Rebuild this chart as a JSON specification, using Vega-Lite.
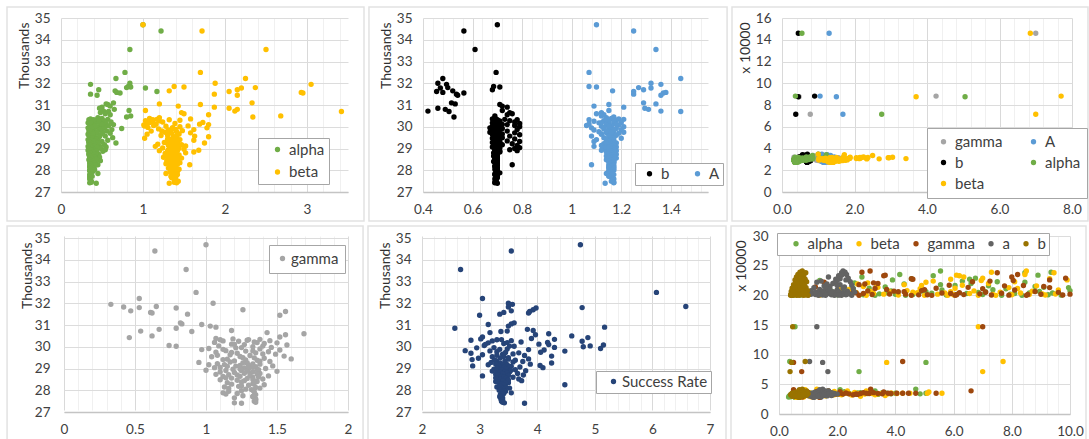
{"$schema":"https://vega.github.io/schema/vega-lite/v6.json","padding":{"left":6,"top":6,"right":0,"bottom":0},"background":"white",
"config":{"font":"Lato","view":{"stroke":null},"axis":{"ticks":false,"grid":true,"labelFont":"Lato","labelFontSize":13.5,"labelColor":"#404040","labelBound":false,"labelFlush":false,"titleFont":"Lato","titleFontWeight":"normal","titleFontSize":14,"titleColor":"#303030","gridColor":"#dcdcdc","gridWidth":1},"axisX":{"domain":true,"domainColor":"#c4c4c4","domainWidth":1.5,"labelPadding":10},"axisY":{"domain":false,"labelPadding":11},"legend":{"fillColor":"white","strokeColor":"#a6a6a6","labelFont":"Lato","labelFontSize":15,"labelColor":"#404040","symbolSize":28,"symbolType":"circle","symbolOpacity":1,"titleFontSize":0}},
"datasets":{"core":[
{"y":146,"alpha":0.55,"beta":6.85,"gamma":7.0,"A":1.3,"b":0.45},{"y":88.2,"alpha":0.37,"beta":7.7,"gamma":4.25,"A":1.05,"b":0.9},{"y":87.6,"alpha":5.05,"beta":3.7,"gamma":0.47,"A":1.5,"b":0.45},{"y":71.5,"alpha":2.75,"beta":7.0,"gamma":0.78,"A":1.68,"b":0.38},
{"y":34.69,"alpha":1.0,"beta":1.0,"gamma":1.0,"A":1.1,"b":0.7,"sr":4.75},{"y":34.4,"alpha":1.22,"beta":1.72,"gamma":0.64,"A":1.25,"b":0.565,"sr":3.55},{"y":33.55,"alpha":0.84,"beta":2.5,"gamma":0.86,"A":1.34,"b":0.61,"sr":2.67},{"y":32.5,"alpha":0.78,"beta":1.7,"gamma":0.93,"A":1.07,"b":0.695,"sr":6.07},{"y":32.22,"alpha":0.67,"beta":2.25,"gamma":0.53,"A":1.44,"b":0.48,"sr":3.05},{"y":32.0,"alpha":0.84,"beta":1.88,"gamma":1.05,"A":1.32,"b":0.46,"sr":3.5},{"y":31.95,"alpha":0.36,"beta":3.05,"gamma":0.33,"A":1.36,"b":0.495,"sr":3.57},{"y":31.85,"alpha":0.82,"beta":1.38,"gamma":0.65,"A":1.07,"b":0.685,"sr":6.58},{"y":31.83,"alpha":0.85,"beta":1.5,"gamma":0.42,"A":1.1,"b":0.71,"sr":3.5},{"y":31.8,"alpha":0.8,"beta":2.37,"gamma":0.53,"A":1.27,"b":0.5,"sr":4.78},{"y":31.78,"alpha":1.03,"beta":2.2,"gamma":0.79,"A":1.32,"b":0.47,"sr":3.98},{"y":31.7,"alpha":0.46,"beta":2.15,"gamma":1.26,"A":1.29,"b":0.68,"sr":3.93},{"y":31.65,"alpha":0.66,"beta":1.32,"gamma":0.47,"A":1.165,"b":0.52,"sr":3.55},{"y":31.62,"alpha":1.17,"beta":2.05,"gamma":1.56,"A":1.25,"b":0.455,"sr":3.87},{"y":31.58,"alpha":0.68,"beta":2.93,"gamma":0.61,"A":1.38,"b":0.48,"sr":3.42},{"y":31.55,"alpha":0.72,"beta":2.95,"gamma":0.62,"A":1.37,"b":0.565,"sr":3.85},{"y":31.5,"alpha":0.36,"beta":1.87,"gamma":0.87,"A":1.25,"b":0.535,"sr":3.35},{"y":31.45,"alpha":0.44,"beta":2.15,"gamma":1.52,"A":1.36,"b":0.54,"sr":3.0},{"y":31.1,"alpha":0.64,"beta":2.33,"gamma":0.82,"A":1.29,"b":0.515,"sr":3.6},{"y":31.05,"alpha":0.55,"beta":1.2,"gamma":0.83,"A":1.34,"b":0.53,"sr":3.55},{"y":31.02,"alpha":0.57,"beta":1.7,"gamma":0.97,"A":1.15,"b":0.71,"sr":3.15},{"y":30.95,"alpha":0.6,"beta":1.43,"gamma":1.03,"A":1.09,"b":0.72,"sr":3.5},{"y":30.9,"alpha":0.5,"beta":1.87,"gamma":1.07,"A":1.21,"b":0.74,"sr":5.17},{"y":30.85,"alpha":0.47,"beta":2.05,"gamma":0.79,"A":1.295,"b":0.46,"sr":2.57},{"y":30.8,"alpha":0.65,"beta":2.15,"gamma":0.67,"A":1.31,"b":0.49,"sr":3.83},{"y":30.75,"alpha":0.83,"beta":1.03,"gamma":1.18,"A":1.15,"b":0.72,"sr":3.93},{"y":30.72,"alpha":0.52,"beta":2.12,"gamma":0.54,"A":1.36,"b":0.42,"sr":3.48},{"y":30.7,"alpha":0.58,"beta":3.42,"gamma":0.9,"A":1.44,"b":0.505,"sr":3.37},{"y":30.65,"alpha":0.48,"beta":1.47,"gamma":1.43,"A":1.12,"b":0.75,"sr":3.18},{"y":30.6,"alpha":0.54,"beta":1.5,"gamma":1.69,"A":1.1,"b":0.76,"sr":4.2},{"y":30.55,"alpha":0.6,"beta":1.8,"gamma":1.56,"A":1.13,"b":0.74,"sr":3.97},{"y":30.5,"alpha":0.85,"beta":2.68,"gamma":0.62,"A":1.12,"b":0.69,"sr":4.6},{"y":30.45,"alpha":0.8,"beta":2.34,"gamma":1.52,"A":1.17,"b":0.525,"sr":3.05},{"y":30.42,"alpha":0.45,"beta":1.2,"gamma":0.46,"A":1.14,"b":0.69,"sr":4.88},
{"y":30.38,"alpha":0.5,"beta":1.08,"gamma":1.07,"A":1.16,"b":0.69,"sr":3.9},{"y":30.36,"alpha":0.36,"beta":1.58,"gamma":1.19,"A":1.19,"b":0.68,"sr":3.02},{"y":30.34,"alpha":0.57,"beta":1.17,"gamma":1.38,"A":1.21,"b":0.73,"sr":4.3},{"y":30.32,"alpha":0.34,"beta":1.32,"gamma":1.1,"A":1.07,"b":0.78,"sr":3.3},{"y":30.3,"alpha":0.43,"beta":1.45,"gamma":1.29,"A":1.18,"b":0.7,"sr":2.85},{"y":30.28,"alpha":0.52,"beta":1.03,"gamma":1.45,"A":1.13,"b":0.75,"sr":3.55},{"y":30.25,"alpha":0.39,"beta":1.12,"gamma":1.23,"A":1.09,"b":0.69,"sr":4.78},{"y":30.22,"alpha":0.61,"beta":1.24,"gamma":1.34,"A":1.15,"b":0.77,"sr":3.72},{"y":30.2,"alpha":0.47,"beta":1.73,"gamma":1.06,"A":1.2,"b":0.71,"sr":4.18},{"y":30.18,"alpha":0.33,"beta":1.05,"gamma":1.5,"A":1.11,"b":0.68,"sr":3.15},{"y":30.15,"alpha":0.55,"beta":1.39,"gamma":1.41,"A":1.17,"b":0.79,"sr":3.42},{"y":30.12,"alpha":0.41,"beta":1.69,"gamma":1.18,"A":1.07,"b":0.7,"sr":4.03},{"y":30.1,"alpha":0.64,"beta":1.8,"gamma":1.27,"A":1.14,"b":0.74,"sr":4.2},{"y":30.08,"alpha":0.37,"beta":1.01,"gamma":1.57,"A":1.19,"b":0.69,"sr":5.15},{"y":30.06,"alpha":0.49,"beta":1.13,"gamma":0.74,"A":1.06,"b":0.77,"sr":3.08},{"y":30.04,"alpha":0.58,"beta":1.55,"gamma":1.09,"A":1.16,"b":0.71,"sr":4.92},{"y":30.02,"alpha":0.35,"beta":1.28,"gamma":0.79,"A":1.12,"b":0.68,"sr":3.6},{"y":30.0,"alpha":0.44,"beta":1.45,"gamma":1.33,"A":1.21,"b":0.79,"sr":4.8},{"y":29.97,"alpha":0.53,"beta":1.06,"gamma":1.46,"A":1.15,"b":0.7,"sr":4.3},{"y":29.95,"alpha":0.33,"beta":1.78,"gamma":1.21,"A":1.08,"b":0.67,"sr":2.95},{"y":29.92,"alpha":0.74,"beta":1.36,"gamma":1.02,"A":1.18,"b":0.72,"sr":5.1},{"y":29.9,"alpha":0.4,"beta":1.19,"gamma":1.38,"A":1.13,"b":0.69,"sr":3.48},{"y":29.87,"alpha":0.62,"beta":1.62,"gamma":0.97,"A":1.2,"b":0.78,"sr":3.85},{"y":29.85,"alpha":0.46,"beta":1.31,"gamma":1.52,"A":1.09,"b":0.68,"sr":4.12},{"y":29.82,"alpha":0.34,"beta":1.48,"gamma":1.14,"A":1.16,"b":0.7,"sr":2.75},{"y":29.8,"alpha":0.56,"beta":1.1,"gamma":1.28,"A":1.17,"b":0.74,"sr":4.48},{"y":29.77,"alpha":0.38,"beta":1.41,"gamma":1.44,"A":1.11,"b":0.69,"sr":3.3},{"y":29.75,"alpha":0.51,"beta":1.27,"gamma":1.07,"A":1.21,"b":0.67,"sr":4.06},{"y":29.72,"alpha":0.43,"beta":1.58,"gamma":1.35,"A":1.14,"b":0.77,"sr":3.68},{"y":29.7,"alpha":0.6,"beta":1.35,"gamma":1.22,"A":1.19,"b":0.71,"sr":2.85},{"y":29.66,"alpha":0.33,"beta":1.05,"gamma":1.49,"A":1.12,"b":0.68,"sr":3.4},{"y":29.63,"alpha":0.48,"beta":1.42,"gamma":1.17,"A":1.15,"b":0.79,"sr":3.05},{"y":29.6,"alpha":0.36,"beta":1.22,"gamma":1.31,"A":1.17,"b":0.7,"sr":3.78},{"y":29.57,"alpha":0.54,"beta":1.63,"gamma":1.55,"A":1.08,"b":0.75,"sr":4.25},{"y":29.54,"alpha":0.41,"beta":1.8,"gamma":1.04,"A":1.16,"b":0.69,"sr":3.22},{"y":29.5,"alpha":0.63,"beta":1.38,"gamma":1.26,"A":1.13,"b":0.72,"sr":3.5},{"y":29.47,"alpha":0.35,"beta":1.02,"gamma":1.41,"A":1.2,"b":0.68,"sr":2.98},{"y":29.44,"alpha":0.45,"beta":1.3,"gamma":1.6,"A":1.15,"b":0.77,"sr":3.85},{"y":29.41,"alpha":0.33,"beta":1.45,"gamma":1.12,"A":1.1,"b":0.7,"sr":2.87},{"y":29.38,"alpha":0.57,"beta":1.62,"gamma":1.36,"A":1.17,"b":0.69,"sr":3.62},{"y":29.35,"alpha":0.39,"beta":1.34,"gamma":1.2,"A":1.14,"b":0.74,"sr":3.3},{"y":29.32,"alpha":0.5,"beta":1.41,"gamma":1.45,"A":1.09,"b":0.79,"sr":3.75},{"y":29.28,"alpha":0.34,"beta":1.26,"gamma":0.95,"A":1.16,"b":0.68,"sr":3.2},{"y":29.25,"alpha":0.67,"beta":1.75,"gamma":1.29,"A":1.18,"b":0.71,"sr":4.25},{"y":29.22,"alpha":0.42,"beta":1.38,"gamma":1.08,"A":1.13,"b":0.76,"sr":3.45},{"y":29.2,"alpha":0.36,"beta":1.18,"gamma":1.38,"A":1.15,"b":0.69,"sr":3.88},{"y":29.17,"alpha":0.53,"beta":1.47,"gamma":1.02,"A":1.17,"b":0.72,"sr":3.15},{"y":29.14,"alpha":0.38,"beta":1.32,"gamma":1.24,"A":1.12,"b":0.78,"sr":4.05},{"y":29.12,"alpha":0.47,"beta":1.52,"gamma":1.47,"A":1.16,"b":0.69,"sr":2.88},{"y":29.1,"alpha":0.33,"beta":1.15,"gamma":1.15,"A":1.09,"b":0.7,"sr":3.55},{"y":29.07,"alpha":0.55,"beta":1.36,"gamma":1.33,"A":1.18,"b":0.68,"sr":3.7},{"y":29.04,"alpha":0.4,"beta":1.43,"gamma":1.06,"A":1.14,"b":0.79,"sr":4.1},{"y":29.02,"alpha":0.35,"beta":1.24,"gamma":1.27,"A":1.16,"b":0.71,"sr":3.35},{"y":29.0,"alpha":0.49,"beta":1.39,"gamma":1.42,"A":1.13,"b":0.77,"sr":3.48},{"y":28.97,"alpha":0.37,"beta":1.5,"gamma":1.19,"A":1.17,"b":0.69,"sr":3.25},{"y":28.94,"alpha":0.54,"beta":1.31,"gamma":1.36,"A":1.15,"b":0.75,"sr":3.62},{"y":28.92,"alpha":0.33,"beta":1.68,"gamma":1.0,"A":1.12,"b":0.7,"sr":3.42},{"y":28.9,"alpha":0.44,"beta":1.2,"gamma":1.25,"A":1.18,"b":0.78,"sr":3.8},{"y":28.87,"alpha":0.51,"beta":1.4,"gamma":1.5,"A":1.16,"b":0.69,"sr":3.3},{"y":28.84,"alpha":0.36,"beta":1.62,"gamma":1.1,"A":1.14,"b":0.71,"sr":3.52},{"y":28.8,"alpha":0.41,"beta":1.52,"gamma":1.31,"A":1.17,"b":0.685,"sr":3.38},{"y":28.77,"alpha":0.34,"beta":1.27,"gamma":1.38,"A":1.15,"b":0.7,"sr":3.66},{"y":28.73,"alpha":0.46,"beta":1.35,"gamma":1.07,"A":1.18,"b":0.69,"sr":3.28},{"y":28.7,"alpha":0.38,"beta":1.44,"gamma":1.22,"A":1.16,"b":0.7,"sr":3.76},{"y":28.66,"alpha":0.43,"beta":1.3,"gamma":1.44,"A":1.14,"b":0.685,"sr":3.05},{"y":28.63,"alpha":0.35,"beta":1.38,"gamma":1.12,"A":1.17,"b":0.7,"sr":3.44},{"y":28.6,"alpha":0.47,"beta":1.25,"gamma":1.33,"A":1.15,"b":0.69,"sr":3.58},{"y":28.56,"alpha":0.36,"beta":1.47,"gamma":1.18,"A":1.18,"b":0.695,"sr":3.32},{"y":28.52,"alpha":0.41,"beta":1.34,"gamma":1.4,"A":1.16,"b":0.7,"sr":3.68},{"y":28.48,"alpha":0.34,"beta":1.42,"gamma":1.1,"A":1.14,"b":0.69,"sr":3.4},{"y":28.44,"alpha":0.48,"beta":1.29,"gamma":1.27,"A":1.17,"b":0.7,"sr":3.73},{"y":28.4,"alpha":0.37,"beta":1.37,"gamma":1.36,"A":1.15,"b":0.685,"sr":3.28},{"y":28.35,"alpha":0.42,"beta":1.45,"gamma":1.15,"A":1.17,"b":0.695,"sr":3.5},{"y":28.3,"alpha":0.35,"beta":1.28,"gamma":1.33,"A":1.16,"b":0.7,"sr":3.35},{"y":28.25,"alpha":0.45,"beta":1.57,"gamma":1.41,"A":1.08,"b":0.76,"sr":4.48},{"y":28.2,"alpha":0.38,"beta":1.4,"gamma":1.25,"A":1.15,"b":0.69,"sr":3.44},{"y":28.15,"alpha":0.35,"beta":1.33,"gamma":1.13,"A":1.17,"b":0.695,"sr":3.3},{"y":28.1,"alpha":0.4,"beta":1.31,"gamma":1.38,"A":1.15,"b":0.7,"sr":3.52},{"y":28.05,"alpha":0.36,"beta":1.44,"gamma":1.28,"A":1.16,"b":0.69,"sr":3.38},{"y":28.0,"alpha":0.35,"beta":1.37,"gamma":1.33,"A":1.17,"b":0.7,"sr":3.34},{"y":27.95,"alpha":0.39,"beta":1.42,"gamma":1.16,"A":1.15,"b":0.695,"sr":3.45},{"y":27.88,"alpha":0.36,"beta":1.37,"gamma":1.12,"A":1.16,"b":0.71,"sr":3.55},{"y":27.85,"alpha":0.45,"beta":1.28,"gamma":1.22,"A":1.14,"b":0.7,"sr":3.42},{"y":27.8,"alpha":0.35,"beta":1.42,"gamma":1.35,"A":1.17,"b":0.69,"sr":3.36},{"y":27.75,"alpha":0.37,"beta":1.36,"gamma":1.26,"A":1.15,"b":0.7,"sr":3.38},{"y":27.7,"alpha":0.35,"beta":1.4,"gamma":1.33,"A":1.16,"b":0.695,"sr":3.35},{"y":27.65,"alpha":0.36,"beta":1.35,"gamma":1.2,"A":1.165,"b":0.7,"sr":3.4},{"y":27.6,"alpha":0.35,"beta":1.38,"gamma":1.35,"A":1.17,"b":0.69,"sr":3.37},{"y":27.5,"alpha":0.37,"beta":1.43,"gamma":1.34,"A":1.16,"b":0.695,"sr":3.38},{"y":27.42,"alpha":0.35,"beta":1.41,"gamma":1.2,"A":1.17,"b":0.69,"sr":3.43},{"y":27.4,"alpha":0.43,"beta":1.32,"gamma":1.25,"A":1.135,"b":0.7,"sr":3.78},
{"y":30.33,"alpha":0.4,"beta":1.12,"gamma":1.3,"A":1.14,"b":0.7,"sr":3.38},{"y":30.27,"alpha":0.46,"beta":1.2,"gamma":1.12,"A":1.17,"b":0.71,"sr":3.22},{"y":30.19,"alpha":0.36,"beta":1.08,"gamma":1.36,"A":1.12,"b":0.69,"sr":3.48},{"y":30.11,"alpha":0.5,"beta":1.16,"gamma":1.2,"A":1.18,"b":0.72,"sr":3.1},{"y":30.03,"alpha":0.42,"beta":1.02,"gamma":1.4,"A":1.15,"b":0.69,"sr":3.52},{"y":29.96,"alpha":0.37,"beta":1.36,"gamma":1.25,"A":1.13,"b":0.7,"sr":3.25},{"y":29.88,"alpha":0.48,"beta":1.4,"gamma":1.12,"A":1.17,"b":0.71,"sr":3.35},{"y":29.81,"alpha":0.35,"beta":1.23,"gamma":1.33,"A":1.14,"b":0.69,"sr":3.18},{"y":29.74,"alpha":0.44,"beta":1.32,"gamma":1.18,"A":1.16,"b":0.7,"sr":3.45},{"y":29.67,"alpha":0.39,"beta":1.44,"gamma":1.4,"A":1.12,"b":0.72,"sr":3.58},{"y":29.61,"alpha":0.34,"beta":1.3,"gamma":1.08,"A":1.18,"b":0.69,"sr":3.3},{"y":29.55,"alpha":0.47,"beta":1.37,"gamma":1.24,"A":1.15,"b":0.7,"sr":3.42},{"y":29.49,"alpha":0.38,"beta":1.41,"gamma":1.34,"A":1.17,"b":0.71,"sr":3.36},{"y":29.43,"alpha":0.43,"beta":1.33,"gamma":1.15,"A":1.14,"b":0.69,"sr":3.5},{"y":29.39,"alpha":0.36,"beta":1.39,"gamma":1.28,"A":1.16,"b":0.7,"sr":3.26},{"y":29.34,"alpha":0.41,"beta":1.43,"gamma":1.38,"A":1.15,"b":0.71,"sr":3.44},{"y":29.3,"alpha":0.34,"beta":1.35,"gamma":1.17,"A":1.17,"b":0.69,"sr":3.58},{"y":29.26,"alpha":0.45,"beta":1.29,"gamma":1.26,"A":1.14,"b":0.7,"sr":3.36},{"y":29.21,"alpha":0.37,"beta":1.42,"gamma":1.33,"A":1.16,"b":0.695,"sr":3.28},{"y":29.18,"alpha":0.42,"beta":1.36,"gamma":1.13,"A":1.15,"b":0.7,"sr":3.48},{"y":29.15,"alpha":0.35,"beta":1.31,"gamma":1.3,"A":1.17,"b":0.71,"sr":3.4},{"y":29.11,"alpha":0.4,"beta":1.4,"gamma":1.21,"A":1.16,"b":0.69,"sr":3.33},{"y":29.08,"alpha":0.36,"beta":1.34,"gamma":1.35,"A":1.14,"b":0.7,"sr":3.52},{"y":29.05,"alpha":0.44,"beta":1.38,"gamma":1.1,"A":1.15,"b":0.695,"sr":3.42},{"y":29.01,"alpha":0.38,"beta":1.44,"gamma":1.3,"A":1.17,"b":0.7,"sr":3.3},{"y":28.98,"alpha":0.34,"beta":1.33,"gamma":1.24,"A":1.16,"b":0.69,"sr":3.46},{"y":28.95,"alpha":0.41,"beta":1.36,"gamma":1.37,"A":1.15,"b":0.7,"sr":3.38},{"y":28.91,"alpha":0.37,"beta":1.42,"gamma":1.14,"A":1.17,"b":0.695,"sr":3.54},{"y":28.88,"alpha":0.43,"beta":1.3,"gamma":1.29,"A":1.16,"b":0.71,"sr":3.22},{"y":28.85,"alpha":0.35,"beta":1.39,"gamma":1.33,"A":1.15,"b":0.69,"sr":3.44},{"y":28.82,"alpha":0.39,"beta":1.34,"gamma":1.2,"A":1.17,"b":0.7,"sr":3.35},{"y":28.78,"alpha":0.36,"beta":1.41,"gamma":1.27,"A":1.16,"b":0.69,"sr":3.48},{"y":28.75,"alpha":0.42,"beta":1.38,"gamma":1.36,"A":1.15,"b":0.7,"sr":3.4},{"y":28.71,"alpha":0.34,"beta":1.32,"gamma":1.16,"A":1.17,"b":0.695,"sr":3.32},{"y":28.68,"alpha":0.39,"beta":1.4,"gamma":1.31,"A":1.16,"b":0.7,"sr":3.5},{"y":28.64,"alpha":0.36,"beta":1.35,"gamma":1.24,"A":1.15,"b":0.69,"sr":3.38},{"y":28.61,"alpha":0.41,"beta":1.43,"gamma":1.37,"A":1.17,"b":0.7,"sr":3.42},{"y":28.57,"alpha":0.35,"beta":1.31,"gamma":1.14,"A":1.16,"b":0.695,"sr":3.28},{"y":28.54,"alpha":0.38,"beta":1.37,"gamma":1.29,"A":1.15,"b":0.69,"sr":3.46},{"y":28.5,"alpha":0.43,"beta":1.41,"gamma":1.33,"A":1.17,"b":0.7,"sr":3.36},{"y":28.46,"alpha":0.36,"beta":1.33,"gamma":1.22,"A":1.16,"b":0.695,"sr":3.5},{"y":28.42,"alpha":0.39,"beta":1.4,"gamma":1.35,"A":1.15,"b":0.7,"sr":3.4},{"y":28.38,"alpha":0.35,"beta":1.36,"gamma":1.25,"A":1.17,"b":0.69,"sr":3.32},{"y":28.33,"alpha":0.4,"beta":1.31,"gamma":1.34,"A":1.16,"b":0.7,"sr":3.45},{"y":28.28,"alpha":0.36,"beta":1.42,"gamma":1.18,"A":1.15,"b":0.695,"sr":3.38},{"y":28.23,"alpha":0.42,"beta":1.36,"gamma":1.3,"A":1.17,"b":0.7,"sr":3.42},{"y":28.18,"alpha":0.35,"beta":1.39,"gamma":1.23,"A":1.16,"b":0.69,"sr":3.35},{"y":28.13,"alpha":0.38,"beta":1.34,"gamma":1.35,"A":1.15,"b":0.7,"sr":3.46},{"y":28.08,"alpha":0.36,"beta":1.4,"gamma":1.16,"A":1.17,"b":0.695,"sr":3.4},{"y":28.03,"alpha":0.41,"beta":1.35,"gamma":1.32,"A":1.16,"b":0.7,"sr":3.36},{"y":27.98,"alpha":0.35,"beta":1.38,"gamma":1.25,"A":1.15,"b":0.695,"sr":3.42},{"y":27.92,"alpha":0.37,"beta":1.33,"gamma":1.34,"A":1.16,"b":0.7,"sr":3.38},{"y":27.83,"alpha":0.36,"beta":1.39,"gamma":1.14,"A":1.165,"b":0.69,"sr":3.4},{"y":27.72,"alpha":0.38,"beta":1.34,"gamma":1.33,"A":1.15,"b":0.7,"sr":3.36},{"y":27.55,"alpha":0.36,"beta":1.4,"gamma":1.35,"A":1.165,"b":0.695,"sr":3.4},{"y":27.45,"alpha":0.37,"beta":1.38,"gamma":1.35,"A":1.17,"b":0.69,"sr":3.4}
],"second":[
{"y":24.1,"alpha":5.55,"beta":8.5,"gamma":3.13,"a":2.2,"b":0.8},{"y":23.9,"alpha":9.35,"beta":7.3,"gamma":2.85,"a":2.27,"b":0.72},{"y":23.8,"alpha":8.45,"beta":9.45,"gamma":7.5,"a":2.15,"b":0.92},{"y":23.5,"alpha":4.15,"beta":8.45,"gamma":8.2,"a":2.32,"b":0.65},{"y":23.3,"alpha":5.3,"beta":6.2,"gamma":3.6,"a":2.05,"b":0.85},{"y":23.1,"alpha":2.85,"beta":6.35,"gamma":8.0,"a":1.7,"b":0.6},{"y":22.9,"alpha":6.75,"beta":7.0,"gamma":9.85,"a":2.38,"b":0.78},{"y":22.7,"alpha":6.55,"beta":5.9,"gamma":4.6,"a":1.95,"b":0.9},{"y":22.6,"alpha":3.9,"beta":9.9,"gamma":9.3,"a":2.3,"b":0.55},{"y":22.4,"alpha":6.3,"beta":5.3,"gamma":7.25,"a":1.45,"b":0.7},{"y":22.3,"alpha":7.5,"beta":8.1,"gamma":6.65,"a":2.45,"b":0.95},{"y":22.2,"alpha":8.45,"beta":5.05,"gamma":1.55,"a":1.3,"b":0.62},{"y":22.0,"alpha":6.6,"beta":7.2,"gamma":3.4,"a":1.85,"b":0.82},{"y":21.8,"alpha":5.55,"beta":4.3,"gamma":2.75,"a":2.1,"b":0.5},{"y":21.7,"alpha":1.6,"beta":6.3,"gamma":5.85,"a":2.5,"b":0.75},{"y":21.6,"alpha":7.2,"beta":8.85,"gamma":7.75,"a":1.55,"b":0.88},{"y":21.5,"alpha":8.8,"beta":2.9,"gamma":9.1,"a":1.75,"b":0.68},{"y":21.4,"alpha":3.65,"beta":3.35,"gamma":1.25,"a":2.25,"b":0.58},{"y":21.3,"alpha":9.95,"beta":7.9,"gamma":9.3,"a":1.2,"b":0.93},{"y":21.2,"alpha":3.1,"beta":6.05,"gamma":5.4,"a":1.65,"b":0.45},{"y":21.1,"alpha":7.8,"beta":4.85,"gamma":7.0,"a":2.55,"b":0.72},{"y":21.0,"alpha":1.75,"beta":2.4,"gamma":3.7,"a":1.4,"b":0.85},{"y":20.9,"alpha":5.6,"beta":9.6,"gamma":8.1,"a":2.0,"b":0.55},{"y":20.8,"alpha":10.0,"beta":4.4,"gamma":4.9,"a":1.1,"b":0.98},{"y":20.7,"alpha":4.9,"beta":8.7,"gamma":3.95,"a":2.35,"b":0.65},{"y":20.65,"alpha":8.95,"beta":3.15,"gamma":8.8,"a":1.6,"b":0.42},{"y":20.6,"alpha":7.1,"beta":5.9,"gamma":4.1,"a":1.85,"b":0.8},{"y":20.55,"alpha":2.3,"beta":7.6,"gamma":2.55,"a":2.6,"b":0.9},{"y":20.5,"alpha":6.85,"beta":2.65,"gamma":9.6,"a":1.3,"b":0.5},{"y":20.45,"alpha":3.7,"beta":4.75,"gamma":6.2,"a":1.95,"b":0.7},{"y":20.4,"alpha":9.4,"beta":8.3,"gamma":5.6,"a":2.2,"b":0.6},{"y":20.35,"alpha":5.25,"beta":1.95,"gamma":7.65,"a":1.15,"b":0.85},{"y":20.3,"alpha":8.1,"beta":6.55,"gamma":2.9,"a":1.7,"b":0.95},{"y":20.25,"alpha":3.45,"beta":9.05,"gamma":6.9,"a":2.45,"b":0.45},{"y":20.2,"alpha":7.95,"beta":3.6,"gamma":10.0,"a":1.45,"b":0.75},{"y":20.2,"alpha":1.3,"beta":5.45,"gamma":4.35,"a":1.05,"b":0.55},{"y":20.15,"alpha":6.1,"beta":7.35,"gamma":8.55,"a":2.05,"b":0.65},{"y":20.15,"alpha":4.6,"beta":2.15,"gamma":3.2,"a":1.25,"b":0.9},{"y":20.1,"alpha":9.25,"beta":6.0,"gamma":5.1,"a":1.8,"b":0.4},{"y":20.1,"alpha":2.0,"beta":8.0,"gamma":6.1,"a":2.3,"b":0.8},{"y":20.05,"alpha":0.75,"beta":4.1,"gamma":9.75,"a":1.5,"b":0.5},{"y":20.05,"alpha":5.75,"beta":9.15,"gamma":7.3,"a":1.0,"b":0.7},{"y":20.0,"alpha":7.65,"beta":3.0,"gamma":4.55,"a":2.5,"b":0.6},{"y":20.0,"alpha":8.35,"beta":6.85,"gamma":8.5,"a":1.35,"b":1.0},{"y":20.0,"alpha":3.3,"beta":5.0,"gamma":5.25,"a":1.9,"b":0.45},{"y":20.0,"alpha":0.5,"beta":7.45,"gamma":6.05,"a":2.15,"b":0.85},
{"y":23.4,"alpha":8.9,"beta":6.1,"gamma":3.65,"a":2.15,"b":0.75},{"y":22.8,"alpha":4.55,"beta":9.3,"gamma":4.55,"a":2.1,"b":0.8},{"y":22.5,"alpha":1.4,"beta":6.95,"gamma":8.05,"a":2.0,"b":0.68},{"y":22.1,"alpha":2.6,"beta":3.05,"gamma":3.25,"a":1.9,"b":0.78},{"y":21.9,"alpha":4.3,"beta":2.7,"gamma":2.95,"a":1.65,"b":0.6},{"y":21.65,"alpha":6.05,"beta":4.9,"gamma":8.4,"a":2.0,"b":0.85},{"y":21.35,"alpha":9.1,"beta":3.4,"gamma":6.5,"a":1.6,"b":0.65},{"y":21.15,"alpha":2.55,"beta":8.2,"gamma":3.3,"a":2.2,"b":0.55},{"y":20.95,"alpha":7.35,"beta":2.1,"gamma":5.0,"a":1.75,"b":0.72},{"y":20.75,"alpha":3.85,"beta":6.7,"gamma":3.05,"a":1.5,"b":0.8},{"y":20.62,"alpha":5.05,"beta":3.8,"gamma":4.3,"a":2.05,"b":0.62},{"y":20.52,"alpha":1.9,"beta":4.6,"gamma":7.1,"a":1.25,"b":0.5},{"y":20.42,"alpha":8.6,"beta":5.7,"gamma":2.65,"a":1.8,"b":0.9},{"y":20.32,"alpha":6.45,"beta":3.25,"gamma":5.9,"a":1.55,"b":0.7},{"y":20.22,"alpha":1.05,"beta":9.5,"gamma":3.8,"a":2.35,"b":0.82},{"y":20.18,"alpha":4.0,"beta":2.5,"gamma":9.0,"a":1.1,"b":0.58},{"y":20.12,"alpha":7.0,"beta":8.6,"gamma":6.35,"a":1.95,"b":0.48},{"y":20.08,"alpha":2.9,"beta":4.55,"gamma":4.8,"a":1.4,"b":0.92},{"y":20.03,"alpha":9.7,"beta":1.4,"gamma":7.9,"a":2.05,"b":0.68},{"y":20.02,"alpha":4.35,"beta":5.8,"gamma":2.75,"a":1.6,"b":0.4},
{"y":14.7,"alpha":0.55,"beta":6.85,"gamma":7.0,"a":1.3,"b":0.47},{"y":8.85,"alpha":0.37,"beta":7.7,"gamma":4.25,"a":1.05,"b":0.9},{"y":8.7,"alpha":5.05,"beta":3.7,"gamma":0.5,"a":1.5,"b":0.43},{"y":7.15,"alpha":2.75,"beta":7.0,"gamma":0.78,"a":1.68,"b":0.38},
{"y":4.2,"alpha":4.7,"beta":1.3,"gamma":3.15,"a":1.5,"b":0.8},{"y":3.9,"alpha":3.3,"beta":3.0,"gamma":6.6,"a":1.6,"b":0.85},{"y":4.1,"alpha":2.1,"beta":0.9,"gamma":0.5,"a":1.4,"b":0.7},{"y":3.9,"alpha":1.7,"beta":2.35,"gamma":1.7,"a":1.7,"b":0.95},{"y":3.7,"alpha":0.5,"beta":5.15,"gamma":3.6,"a":1.25,"b":0.6},{"y":3.6,"alpha":2.8,"beta":1.05,"gamma":2.9,"a":1.8,"b":0.75},{"y":3.5,"alpha":5.05,"beta":5.6,"gamma":5.4,"a":1.35,"b":0.55},{"y":3.5,"alpha":4.0,"beta":4.5,"gamma":4.45,"a":1.55,"b":0.9},{"y":3.5,"alpha":3.7,"beta":5.1,"gamma":4.7,"a":1.15,"b":0.65},{"y":3.5,"alpha":2.4,"beta":4.25,"gamma":4.25,"a":1.75,"b":0.8},{"y":3.5,"alpha":1.3,"beta":3.55,"gamma":4.05,"a":1.45,"b":0.45},{"y":3.45,"alpha":0.9,"beta":3.2,"gamma":3.85,"a":1.05,"b":0.7},{"y":3.45,"alpha":3.05,"beta":2.75,"gamma":3.4,"a":1.9,"b":1.0},{"y":3.45,"alpha":1.9,"beta":2.2,"gamma":3.1,"a":1.3,"b":0.6},{"y":3.4,"alpha":4.85,"beta":3.75,"gamma":2.65,"a":1.6,"b":0.85},{"y":3.4,"alpha":2.55,"beta":1.7,"gamma":2.4,"a":1.2,"b":0.5},{"y":3.35,"alpha":0.6,"beta":2.95,"gamma":2.2,"a":1.5,"b":0.75},{"y":3.35,"alpha":1.5,"beta":1.45,"gamma":1.95,"a":2.0,"b":0.9},{"y":3.3,"alpha":3.4,"beta":2.05,"gamma":1.5,"a":1.1,"b":0.65},{"y":3.3,"alpha":2.0,"beta":0.7,"gamma":1.25,"a":1.7,"b":0.55},{"y":3.25,"alpha":0.4,"beta":3.3,"gamma":2.55,"a":1.4,"b":0.8},{"y":3.25,"alpha":1.15,"beta":1.9,"gamma":1.05,"a":1.85,"b":0.4},{"y":3.2,"alpha":0.8,"beta":2.5,"gamma":0.7,"a":1.25,"b":0.7},{"y":3.15,"alpha":0.45,"beta":1.25,"gamma":1.8,"a":1.55,"b":0.95},{"y":3.1,"alpha":1.0,"beta":3.65,"gamma":0.9,"a":1.0,"b":0.6},{"y":3.05,"alpha":0.35,"beta":1.6,"gamma":1.35,"a":1.65,"b":0.85},{"y":3.0,"alpha":0.65,"beta":2.8,"gamma":0.55,"a":1.3,"b":0.45},{"y":2.9,"alpha":0.4,"beta":1.1,"gamma":1.15,"a":1.15,"b":0.75},{"y":2.85,"alpha":0.33,"beta":0.85,"gamma":0.8,"a":1.45,"b":0.65},{"y":2.8,"alpha":0.55,"beta":0.6,"gamma":1.4,"a":1.2,"b":0.7},
{"y":3.8,"alpha":1.45,"beta":1.9,"gamma":1.3,"a":1.55,"b":0.78},{"y":3.75,"alpha":2.25,"beta":1.5,"gamma":2.1,"a":1.45,"b":0.68},{"y":3.65,"alpha":0.75,"beta":2.6,"gamma":1.0,"a":1.65,"b":0.88},{"y":3.6,"alpha":3.55,"beta":0.95,"gamma":3.25,"a":1.35,"b":0.55},{"y":3.55,"alpha":1.85,"beta":3.85,"gamma":2.3,"a":1.75,"b":0.72},{"y":3.55,"alpha":2.7,"beta":2.3,"gamma":1.65,"a":1.2,"b":0.62},{"y":3.5,"alpha":1.1,"beta":1.2,"gamma":3.0,"a":1.5,"b":0.82},{"y":3.5,"alpha":3.15,"beta":2.9,"gamma":3.75,"a":1.85,"b":0.5},{"y":3.45,"alpha":0.55,"beta":4.05,"gamma":2.8,"a":1.1,"b":0.75},{"y":3.45,"alpha":2.2,"beta":1.65,"gamma":1.4,"a":1.6,"b":0.95},{"y":3.4,"alpha":1.35,"beta":3.4,"gamma":3.55,"a":1.3,"b":0.65},{"y":3.4,"alpha":3.85,"beta":0.8,"gamma":2.05,"a":1.45,"b":0.45},{"y":3.35,"alpha":0.95,"beta":2.45,"gamma":0.95,"a":1.7,"b":0.85},{"y":3.3,"alpha":2.65,"beta":1.35,"gamma":2.7,"a":1.25,"b":0.6},{"y":3.25,"alpha":1.6,"beta":2.15,"gamma":1.2,"a":1.55,"b":0.72},{"y":3.2,"alpha":0.5,"beta":0.75,"gamma":0.65,"a":1.15,"b":0.5},{"y":3.15,"alpha":1.25,"beta":1.8,"gamma":1.55,"a":1.4,"b":0.8},{"y":3.1,"alpha":0.7,"beta":1.0,"gamma":0.85,"a":1.8,"b":0.65},{"y":3.05,"alpha":0.42,"beta":0.65,"gamma":1.1,"a":1.05,"b":0.55},{"y":2.95,"alpha":0.6,"beta":1.3,"gamma":0.75,"a":1.35,"b":0.7}
]},
"vconcat":[
{"hconcat":[
{"width":287,"height":174,"data":{"name":"core"},"transform":[{"filter":"datum.y<=35"}],"layer":[
{"mark":{"type":"circle","size":29,"opacity":1},"encoding":{"x":{"field":"alpha","type":"quantitative","scale":{"domain":[0,3.5],"nice":false,"zero":false},"axis":{"title":null,"tickCount":100,"labelOverlap":false,"values":[0,0.2,0.4,0.6,0.8,1,1.2,1.4,1.6,1.8,2,2.2,2.4,2.6,2.8,3,3.2,3.4],"labelExpr":"abs(datum.value-round(datum.value))<0.01?datum.value:''","gridColor":{"condition":{"test":"abs(datum.value-round(datum.value))<0.01","value":"#d9d9d9"},"value":"#f0f0f0"}}},"y":{"field":"y","type":"quantitative","scale":{"domain":[27,35],"nice":false,"zero":false},"axis":{"title":"Thousands","format":"d","tickCount":100,"labelOverlap":false,"values":[27,28,29,30,31,32,33,34,35],"titleX":-30,"titleY":4,"titleAngle":-90,"titleAlign":"right"}},"color":{"datum":"alpha","type":"nominal","scale":{"domain":["alpha","beta"],"range":["#70ad47","#ffc000"]},"legend":{"title":null,"orient":"none","legendX":197,"legendY":120,"padding":4,"symbolOffset":8,"rowPadding":6.5}}}},
{"mark":{"type":"circle","size":29,"opacity":1},"encoding":{"x":{"field":"beta","type":"quantitative"},"y":{"field":"y","type":"quantitative"},"color":{"datum":"beta","type":"nominal"}}},
{"data":{"values":[{}]},"mark":{"type":"rect","fill":null,"stroke":"#e2e2e2","strokeWidth":1.5},"encoding":{"x":{"datum":-0.6585},"x2":{"datum":3.695},"y":{"datum":35.506},"y2":{"datum":25.667}}}
]},
{"width":285,"height":174,"data":{"name":"core"},"transform":[{"filter":"datum.y<=35"}],"layer":[
{"mark":{"type":"circle","size":29,"opacity":1},"encoding":{"x":{"field":"b","type":"quantitative","scale":{"domain":[0.4,1.55],"nice":false,"zero":false},"axis":{"title":null,"tickCount":100,"labelOverlap":false,"values":[0.4,0.44,0.48,0.52,0.56,0.6,0.64,0.68,0.72,0.76,0.8,0.84,0.88,0.92,0.96,1,1.04,1.08,1.12,1.16,1.2,1.24,1.28,1.32,1.36,1.4,1.44,1.48,1.52],"labelExpr":"abs(datum.value*5-round(datum.value*5))<0.01?datum.value:''","gridColor":{"condition":{"test":"abs(datum.value*5-round(datum.value*5))<0.01","value":"#d9d9d9"},"value":"#f0f0f0"}}},"y":{"field":"y","type":"quantitative","scale":{"domain":[27,35],"nice":false,"zero":false},"axis":{"title":"Thousands","format":"d","tickCount":100,"labelOverlap":false,"values":[27,28,29,30,31,32,33,34,35],"titleX":-30,"titleY":4,"titleAngle":-90,"titleAlign":"right"}},"color":{"datum":"b","type":"nominal","scale":{"domain":["b","A"],"range":["#000000","#5b9bd5"]},"legend":{"title":null,"orient":"none","legendX":212,"legendY":145,"direction":"horizontal","columns":2,"gridAlign":"each","padding":3,"columnPadding":16,"symbolOffset":4}}}},
{"mark":{"type":"circle","size":29,"opacity":1},"encoding":{"x":{"field":"A","type":"quantitative"},"y":{"field":"y","type":"quantitative"},"color":{"datum":"A","type":"nominal"}}},
{"data":{"values":[{}]},"mark":{"type":"rect","fill":null,"stroke":"#e2e2e2","strokeWidth":1.5},"encoding":{"x":{"datum":0.182},"x2":{"datum":1.627},"y":{"datum":35.506},"y2":{"datum":25.667}}}
]},
{"width":290,"height":174,"data":{"name":"core"},"layer":[
{"mark":{"type":"circle","size":29,"opacity":1},"encoding":{"x":{"field":"gamma","type":"quantitative","scale":{"domain":[0,8],"nice":false,"zero":false},"axis":{"title":null,"tickCount":100,"labelOverlap":false,"values":[0,0.4,0.8,1.2,1.6,2,2.4,2.8,3.2,3.6,4,4.4,4.8,5.2,5.6,6,6.4,6.8,7.2,7.6,8],"labelExpr":"abs(datum.value/2-round(datum.value/2))<0.01?format(datum.value,'.1f'):''","gridColor":{"condition":{"test":"abs(datum.value/2-round(datum.value/2))<0.01","value":"#d9d9d9"},"value":"#f0f0f0"}}},"y":{"field":"y","type":"quantitative","scale":{"domain":[0,160],"nice":false,"zero":false},"axis":{"title":"x 10000","tickCount":100,"labelOverlap":false,"values":[0,20,40,60,80,100,120,140,160],"labelExpr":"datum.value/10","titleX":-30,"titleY":4,"titleAngle":-90,"titleAlign":"right"}},"color":{"datum":"gamma","type":"nominal","scale":{"domain":["gamma","b","beta","A","alpha"],"range":["#a5a5a5","#000000","#ffc000","#5b9bd5","#70ad47"]},"legend":{"title":null,"orient":"none","legendX":145,"legendY":110,"columns":2,"padding":6,"rowPadding":5,"columnPadding":20,"symbolOffset":3}}}},
{"mark":{"type":"circle","size":29,"opacity":1},"encoding":{"x":{"field":"A","type":"quantitative"},"y":{"field":"y","type":"quantitative"},"color":{"datum":"A","type":"nominal"}}},
{"mark":{"type":"circle","size":29,"opacity":1},"encoding":{"x":{"field":"b","type":"quantitative"},"y":{"field":"y","type":"quantitative"},"color":{"datum":"b","type":"nominal"}}},
{"mark":{"type":"circle","size":29,"opacity":1},"encoding":{"x":{"field":"alpha","type":"quantitative"},"y":{"field":"y","type":"quantitative"},"color":{"datum":"alpha","type":"nominal"}}},
{"mark":{"type":"circle","size":29,"opacity":1},"encoding":{"x":{"field":"beta","type":"quantitative"},"y":{"field":"y","type":"quantitative"},"color":{"datum":"beta","type":"nominal"}}},
{"data":{"values":[{}]},"mark":{"type":"rect","fill":null,"stroke":"#e2e2e2","strokeWidth":1.5},"encoding":{"x":{"datum":-1.379},"x2":{"datum":8.441},"y":{"datum":170.1},"y2":{"datum":-26.67}}}
]}
],"spacing":3,"resolve":{"scale":{"color":"independent"}}},
{"hconcat":[
{"width":287,"height":176,"data":{"name":"core"},"transform":[{"filter":"datum.y<=35"}],"layer":[
{"mark":{"type":"circle","size":29,"opacity":1},"encoding":{"x":{"field":"gamma","type":"quantitative","scale":{"domain":[0,2],"nice":false,"zero":false,"range":[3,287]},"axis":{"title":null,"tickCount":100,"labelOverlap":false,"values":[0,0.1,0.2,0.3,0.4,0.5,0.6,0.7,0.8,0.9,1,1.1,1.2,1.3,1.4,1.5,1.6,1.7,1.8,1.9,2],"labelExpr":"abs(datum.value*2-round(datum.value*2))<0.01?datum.value:''","gridColor":{"condition":{"test":"abs(datum.value*2-round(datum.value*2))<0.01","value":"#d9d9d9"},"value":"#f0f0f0"}}},"y":{"field":"y","type":"quantitative","scale":{"domain":[27,35],"nice":false,"zero":false,"range":[176,2]},"axis":{"title":"Thousands","format":"d","tickCount":100,"labelOverlap":false,"values":[27,28,29,30,31,32,33,34,35],"titleX":-27,"titleY":6,"titleAngle":-90,"titleAlign":"right"}},"color":{"datum":"gamma","type":"nominal","scale":{"domain":["gamma"],"range":["#a5a5a5"]},"legend":{"title":null,"orient":"none","legendX":208,"legendY":9,"padding":6,"symbolOffset":0,"labelOffset":1}}}},
{"data":{"values":[{}]},"mark":{"type":"rect","fill":null,"stroke":"#e2e2e2","strokeWidth":1.5},"encoding":{"x":{"datum":-0.401},"x2":{"datum":2.106},"y":{"datum":35.55},"y2":{"datum":25.44}}}
]},
{"width":288,"height":176,"data":{"name":"core"},"transform":[{"filter":"datum.y<=35"}],"layer":[
{"mark":{"type":"circle","size":29,"opacity":1},"encoding":{"x":{"field":"sr","type":"quantitative","scale":{"domain":[2,7],"nice":false,"zero":false},"axis":{"title":null,"tickCount":100,"labelOverlap":false,"values":[2,2.2,2.4,2.6,2.8,3,3.2,3.4,3.6,3.8,4,4.2,4.4,4.6,4.8,5,5.2,5.4,5.6,5.8,6,6.2,6.4,6.6,6.8,7],"labelExpr":"abs(datum.value-round(datum.value))<0.01?datum.value:''","gridColor":{"condition":{"test":"abs(datum.value-round(datum.value))<0.01","value":"#d9d9d9"},"value":"#f0f0f0"}}},"y":{"field":"y","type":"quantitative","scale":{"domain":[27,35],"nice":false,"zero":false,"range":[176,2]},"axis":{"title":"Thousands","format":"d","tickCount":100,"labelOverlap":false,"values":[27,28,29,30,31,32,33,34,35],"titleX":-30,"titleY":6,"titleAngle":-90,"titleAlign":"right"}},"color":{"datum":"Success Rate","type":"nominal","scale":{"domain":["Success Rate"],"range":["#264478"]},"legend":{"title":null,"orient":"none","legendX":174,"legendY":135,"padding":3,"symbolOffset":7,"labelOffset":1}}}},
{"data":{"values":[{}]},"mark":{"type":"rect","fill":null,"stroke":"#e2e2e2","strokeWidth":1.5},"encoding":{"x":{"datum":1.0625},"x2":{"datum":7.278},"y":{"datum":35.55},"y2":{"datum":25.44}}}
]},
{"width":291,"height":178,"data":{"name":"second"},"layer":[
{"mark":{"type":"circle","size":29,"opacity":1},"encoding":{"x":{"field":"alpha","type":"quantitative","scale":{"domain":[0,10],"nice":false,"zero":false},"axis":{"title":null,"tickCount":100,"labelOverlap":false,"values":[0,0.4,0.8,1.2,1.6,2,2.4,2.8,3.2,3.6,4,4.4,4.8,5.2,5.6,6,6.4,6.8,7.2,7.6,8,8.4,8.8,9.2,9.6,10],"labelExpr":"abs(datum.value/2-round(datum.value/2))<0.01?format(datum.value,'.1f'):''","gridColor":{"condition":{"test":"abs(datum.value/2-round(datum.value/2))<0.01","value":"#d9d9d9"},"value":"#f0f0f0"}}},"y":{"field":"y","type":"quantitative","scale":{"domain":[0,30],"nice":false,"zero":false},"axis":{"title":"x 10000","format":"d","tickCount":100,"labelOverlap":false,"values":[0,5,10,15,20,25,30],"titleX":-31,"titleY":4,"titleAngle":-90,"titleAlign":"right"}},"color":{"datum":"alpha","type":"nominal","scale":{"domain":["alpha","beta","gamma","a","b"],"range":["#70ad47","#ffc000","#9e480e","#636363","#997300"]},"legend":{"title":null,"orient":"none","legendX":-2,"legendY":-3,"direction":"horizontal","columns":5,"gridAlign":"each","padding":3,"columnPadding":0,"symbolOffset":8.5}}}},
{"mark":{"type":"circle","size":29,"opacity":1},"encoding":{"x":{"field":"beta","type":"quantitative"},"y":{"field":"y","type":"quantitative"},"color":{"datum":"beta","type":"nominal"}}},
{"mark":{"type":"circle","size":29,"opacity":1},"encoding":{"x":{"field":"gamma","type":"quantitative"},"y":{"field":"y","type":"quantitative"},"color":{"datum":"gamma","type":"nominal"}}},
{"mark":{"type":"circle","size":29,"opacity":1},"encoding":{"x":{"field":"a","type":"quantitative"},"y":{"field":"y","type":"quantitative"},"color":{"datum":"a","type":"nominal"}}},
{"mark":{"type":"circle","size":29,"opacity":1},"encoding":{"x":{"field":"b","type":"quantitative"},"y":{"field":"y","type":"quantitative"},"color":{"datum":"b","type":"nominal"}}},
{"data":{"values":[{}]},"mark":{"type":"rect","fill":null,"stroke":"#e2e2e2","strokeWidth":1.5},"encoding":{"x":{"datum":-1.649},"x2":{"datum":10.55},"y":{"datum":31.685},"y2":{"datum":-5.39}}}
]}
],"spacing":3,"resolve":{"scale":{"color":"independent"}}}
],"spacing":3,"resolve":{"scale":{"color":"independent"}}}
